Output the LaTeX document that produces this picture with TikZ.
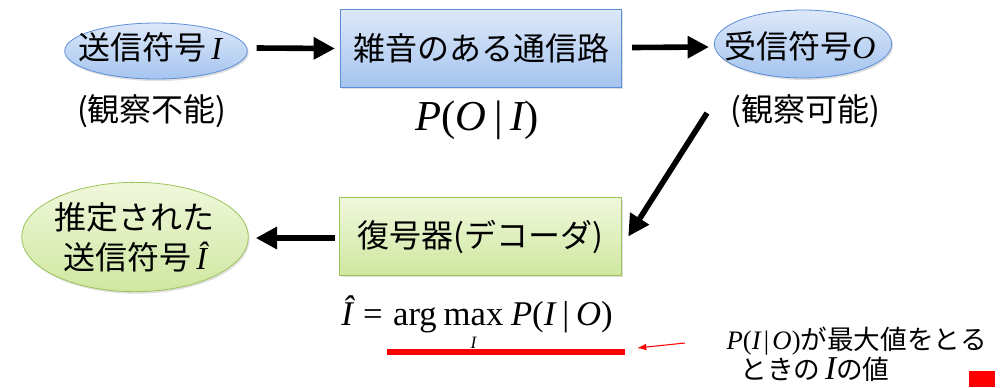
\documentclass[tikz,border=0pt]{standalone}
\usepackage{fontspec}
\setmainfont{Noto Sans CJK JP}
\newfontfamily\tms{Liberation Serif}
\usetikzlibrary{shapes.geometric,arrows.meta,calc,shadows}
\newcommand\tmi[1]{{\tms\itshape #1}}
\newcommand\tup[1]{{\tms #1}}
\newcommand\undermax{\setbox0\hbox{\tup{max}}\vtop{\offinterlineskip\copy0\kern8.5pt\hbox to\wd0{\hss\fontsize{13}{13}\selectfont\tmi{I}\hss}}}
\definecolor{bluetop}{HTML}{DDE8F9}
\definecolor{bluebot}{HTML}{A5C4EF}
\definecolor{blueline}{HTML}{5B8ED6}
\definecolor{greentop}{HTML}{F0F8DC}
\definecolor{greenbot}{HTML}{CFE7A0}
\definecolor{greenline}{HTML}{9CC45A}
\begin{document}
\begin{tikzpicture}[x=0.75pt,y=-0.75pt,
  bigfont/.style={font=\fontsize{24}{30}\selectfont},
  shade/.style={drop shadow={opacity=0.25,shadow xshift=1pt,shadow yshift=-1.5pt}},
  blueell/.style={ellipse, draw=blueline, line width=0.6pt, top color=bluetop, bottom color=bluebot, shade, inner sep=0pt},
  greenell/.style={ellipse, draw=greenline, line width=0.6pt, top color=greentop, bottom color=greenbot, shade, inner sep=0pt},
  bluebox/.style={rectangle, draw=blueline, line width=0.6pt, top color=bluetop, bottom color=bluebot, shade, minimum width=211pt, minimum height=58pt, bigfont},
  greenbox/.style={rectangle, draw=greenline, line width=0.6pt, top color=greentop, bottom color=greenbot, shade, minimum width=212pt, minimum height=58pt, bigfont},
  bigarrow/.style={line width=4.2pt, -{Triangle[length=16pt,width=16pt]}},
  redarrow/.style={red, line width=0.8pt, -{Latex[length=7pt,width=5pt]}}]
\useasboundingbox (0,0) rectangle (1008,387);

% top row
\node[blueell, minimum width=137pt, minimum height=42pt] (e1) at (156,51) {};
\node[bigfont] (t1) at (150,47) {送信符号\,\tmi{I}};
\node[bluebox] (b1) at (481,48.5) {雑音のある通信路};
\node[blueell, minimum width=133pt, minimum height=51pt] (e2) at (803,44) {};
\node[bigfont] (t2) at (800,46) {受信符号\tmi{O}};

\node[bigfont] (o1) at (152,111) {(観察不能)};
\node[font=\fontsize{32}{36}\selectfont] (p1) at (477,120) {\tmi{P}\tup{(}\tmi{O}\tup{\hspace{0.18em}|\hspace{0.18em}}\tmi{I}\tup{)}};
\node[bigfont] (o2) at (805,111) {(観察可能)};

% bottom row
\node[greenell, minimum width=170pt, minimum height=82pt] (e3) at (135,237) {};
\node[bigfont, align=center] (t3) at (135,237) {推定された\\送信符号\,\tmi{Î}};
\node[greenbox] (b2) at (480.5,236.5) {復号器(デコーダ)};

\node[font=\fontsize{26}{30}\selectfont, anchor=base, inner sep=0pt] (f1) at (477,325)
 {\tmi{Î}\hspace{0.3em}\tup{=}\hspace{0.3em}\tup{arg}\hspace{0.2em}\undermax\hspace{0.22em}\tmi{P}\tup{(}\tmi{I}\tup{\hspace{0.2em}|\hspace{0.2em}}\tmi{O}\tup{)}};

\draw[red, line width=4.5pt] (387,352) -- (625,352);

\node[font=\fontsize{20}{24}\selectfont] (n1) at (857,341) {\tmi{P}\tup{(}\tmi{I}\tup{\hspace{0.12em}|\hspace{0.12em}}\tmi{O}\tup{)}が最大値をとる};
\node[font=\fontsize{20}{24}\selectfont] (n2) at (815,369) {ときの\,{\fontsize{25}{25}\selectfont\tmi{I}}の値};
\fill[red] (969,371) rectangle (995,387);

% connectors
\draw[bigarrow] ($(e1.east)+(9,-3)$) -- ($(b1.west)+(-5,0)$);
\draw[bigarrow] ($(b1.east)+(10,-1)$) -- ($(e2.west)+(-5,3)$);
\coordinate (d1) at (707,113);
\draw[bigarrow] (d1) -- ($(b2.east)+(6,0)$);
\draw[bigarrow] ($(b2.west)+(-4,1.5)$) -- ($(e3.east)+(7,1)$);
\coordinate (r1) at (685,343);
\coordinate (r2) at (637,348);
\draw[redarrow] (r1) -- (r2);
\end{tikzpicture}
\end{document}
